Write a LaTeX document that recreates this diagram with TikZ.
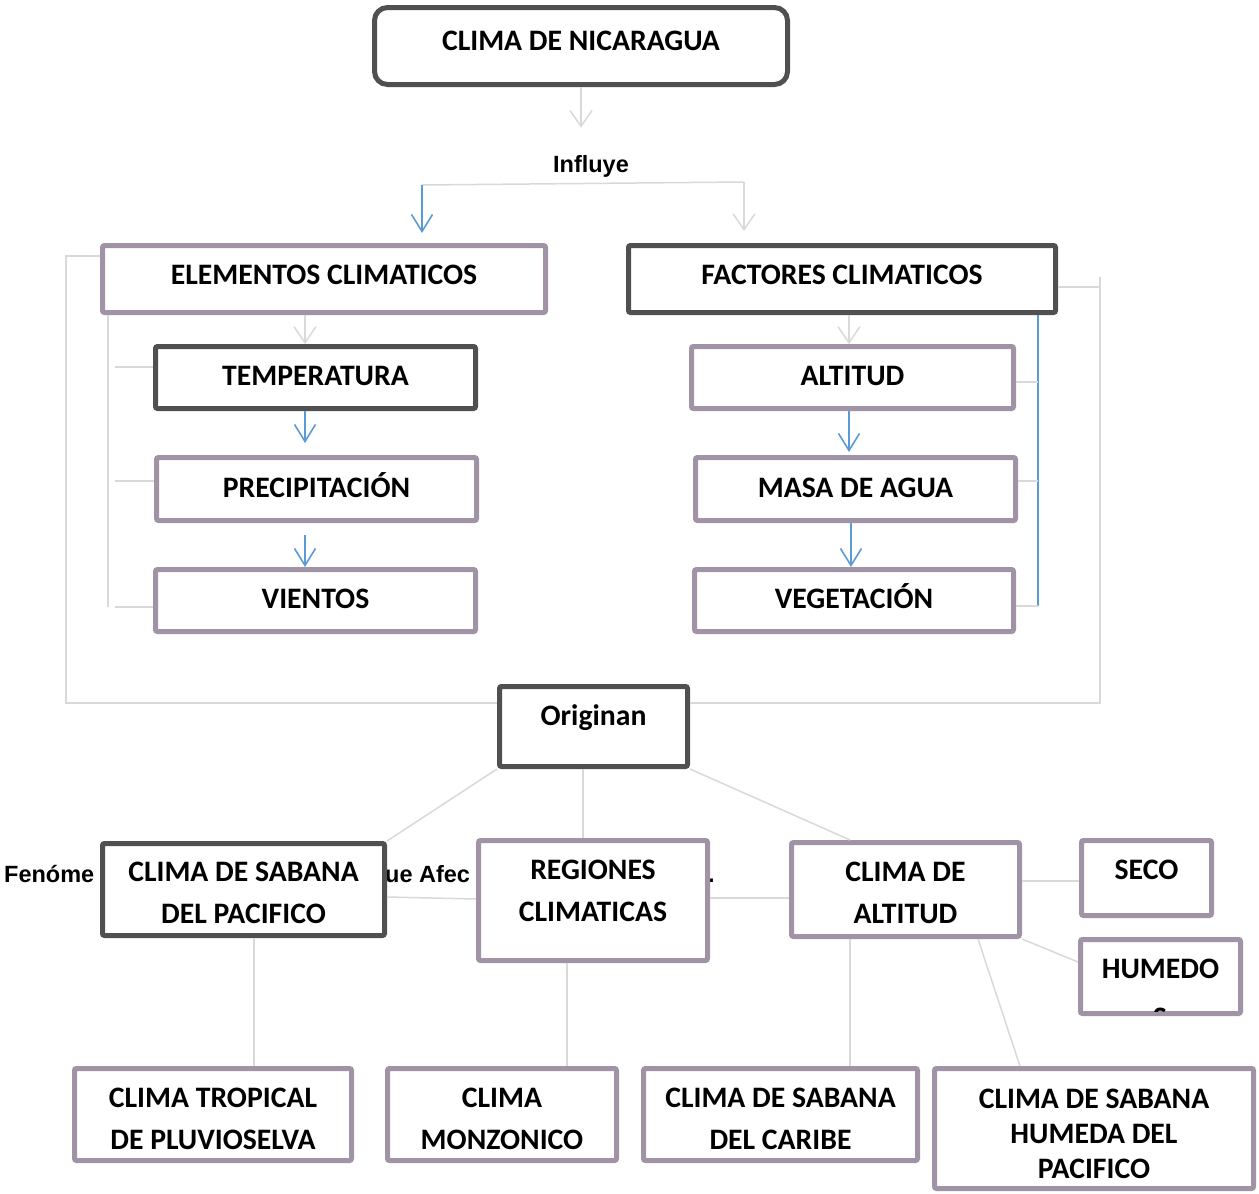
\documentclass[tikz,border=0pt]{standalone}
\usepackage{fontspec}
\setmainfont{Carlito}
\newfontfamily\arialfont{Liberation Sans}
\usetikzlibrary{arrows.meta,positioning}
\definecolor{boxdark}{RGB}{80,80,80}
\definecolor{boxlilac}{RGB}{160,147,166}
\definecolor{linkgray}{RGB}{217,217,217}
\definecolor{linkblue}{RGB}{91,155,213}
\newcommand{\boxtext}{\fontsize{29.7pt}{42pt}\selectfont\bfseries}
\newcommand{\tightboxtext}{\fontsize{29.7pt}{35pt}\selectfont\bfseries}
\newcommand{\plaintext}{\arialfont\fontsize{23.5pt}{28pt}\selectfont\bfseries}
\tikzset
{
    darkbox/.style = {rectangle, draw=boxdark, line width=5pt, fill=white, rounded corners=2pt, align=center, inner sep=0pt, font=\boxtext, text height=19pt, text depth=3pt},
    lilacbox/.style = {darkbox, draw=boxlilac},
    twolines/.style = {text height=#1, text depth=0pt},
    plainlabel/.style = {inner sep=0pt, font=\plaintext},
    link/.style = {draw=linkgray, line width=1.5pt},
    grayarrow/.style = {link, -{Straight Barb[length=16pt, width=22pt]}},
    bluelink/.style = {draw=linkblue, line width=1.6pt},
    bluearrow/.style = {bluelink, -{Straight Barb[length=17pt, width=21pt]}}
}

\begin{document}
\begin{tikzpicture}[x=1pt, y=-1pt]
\useasboundingbox (0,0) rectangle (1259,1194);
\node[plainlabel, anchor=base west] (frag1) at (4,882) {Fenóme};
\node[plainlabel, anchor=base west] (frag2) at (385,882) {ue Afec};
\node[plainlabel, anchor=base west] (frag3) at (708,882) {.};

\node[darkbox, rounded corners=13pt, minimum width=413pt, minimum height=77pt, text depth=11pt] (nic) at (581,46) {CLIMA DE NICARAGUA};
\node[plainlabel, anchor=base] (influye) at (591,172) {Influye};

\node[lilacbox, minimum width=443pt, minimum height=67pt, text depth=8pt] (elem) at (324,279) {ELEMENTOS CLIMATICOS};
\node[darkbox, minimum width=427pt, minimum height=67pt, text depth=8pt] (fact) at (842,279) {FACTORES CLIMATICOS};
\node[darkbox, minimum width=320pt, minimum height=62pt] (temp) at (315.5,377.5) {TEMPERATURA};
\node[lilacbox, minimum width=320pt, minimum height=63pt] (prec) at (316.5,489) {PRECIPITACIÓN};
\node[lilacbox, minimum width=320pt, minimum height=62pt, text depth=4pt] (vien) at (315.5,600.5) {VIENTOS};
\node[lilacbox, minimum width=322pt, minimum height=62pt] (alti) at (852.5,377.5) {ALTITUD};
\node[lilacbox, minimum width=320pt, minimum height=63pt] (masa) at (855.5,489) {MASA DE AGUA};
\node[lilacbox, minimum width=319pt, minimum height=62pt, text depth=4pt] (vege) at (854,600.5) {VEGETACIÓN};

\node[darkbox, minimum width=188pt, minimum height=80pt, text depth=22pt] (orig) at (593.5,726.5) {Originan};

\node[darkbox, twolines=68pt, minimum width=282pt, minimum height=92pt] (pac) at (243.5,889.5) {CLIMA DE SABANA\\DEL PACIFICO};
\node[lilacbox, twolines=42pt, minimum width=229pt, minimum height=120pt] (reg) at (593,900.5) {REGIONES\\CLIMATICAS};
\node[lilacbox, twolines=68pt, minimum width=228pt, minimum height=94pt] (calt) at (905.5,889.5) {CLIMA DE\\ALTITUD};
\node[lilacbox, minimum width=130pt, minimum height=75pt, text depth=16pt] (seco) at (1146.5,878) {SECO};
\node[lilacbox, minimum width=160pt, minimum height=74pt, text depth=15pt] (hum) at (1160.5,976.5) {HUMEDO};
\begin{scope}
\clip ([xshift=5pt,yshift=5pt]hum.south west) rectangle ([xshift=-5pt,yshift=-5pt]hum.north east);
\node[font=\boxtext, inner sep=0pt, anchor=base] (humcut) at (1160,1027) {S};
\end{scope}

\node[lilacbox, twolines=69pt, minimum width=277pt, minimum height=92pt] (trop) at (213,1114.5) {CLIMA TROPICAL\\DE PLUVIOSELVA};
\node[lilacbox, twolines=69pt, minimum width=229pt, minimum height=92pt] (monz) at (502,1114.5) {CLIMA\\MONZONICO};
\node[lilacbox, twolines=69pt, minimum width=274pt, minimum height=92pt] (cari) at (780.5,1114.5) {CLIMA DE SABANA\\DEL CARIBE};
\node[lilacbox, font=\tightboxtext, twolines=99pt, minimum width=319pt, minimum height=120pt] (shum) at (1094,1128.5) {CLIMA DE SABANA\\HUMEDA DEL\\PACIFICO};

\draw[grayarrow, shorten >=27pt] (nic.south) -- (nic.south |- influye.north);
\coordinate (forkl) at (422,185);
\coordinate (forkr) at (744,182);
\draw[link] (forkl) -- (forkr);
\draw[grayarrow, shorten >=12pt] (forkr) -- (forkr |- fact.north);
\draw[bluearrow, shorten >=10pt] (forkl) -- (forkl |- elem.north);

\draw[grayarrow] (305,0 |- elem.south) -- (305,0 |- temp.north);
\draw[grayarrow] (849,0 |- fact.south) -- (849,0 |- alti.north);
\draw[bluearrow, shorten >=12pt] (305,0 |- temp.south) -- (305,0 |- prec.north);
\draw[bluearrow, shorten <=12pt] (305,0 |- prec.south) -- (305,0 |- vien.north);
\draw[bluearrow, shorten >=3pt] (849,0 |- alti.south) -- (849,0 |- masa.north);
\draw[bluearrow] (851,0 |- masa.south) -- (851,0 |- vege.north);

\draw[link] (108,0 |- elem.south) -- (108,607);
\draw[link] (115,367) -- (temp.west |- 0,367);
\draw[link] (115,481) -- (prec.west |- 0,481);
\draw[link] (115,607) -- (vien.west |- 0,607);
\draw[link] (elem.west |- 0,256) -| (66,703) -- (orig.west |- 0,703);

\draw[bluelink] (1038,0 |- fact.south) -- (1038,606);
\draw[link] (alti.east |- 0,382) -- (1038,382);
\draw[link] (masa.east |- 0,481) -- (1038,481);
\draw[link] (vege.east |- 0,606) -- (1038,606);
\draw[link] (fact.east |- 0,287) -- (1100,287);
\draw[link] (1100,277) -- (1100,703) -- (orig.east |- 0,703);

\draw[link] (orig.south west) -- (pac.north east);
\draw[link] (583,0 |- orig.south) -- (583,0 |- reg.north);
\draw[link] (orig.south east) -- (850,0 |- calt.north);
\draw[link] (pac.east |- 0,897) -- (reg.west |- 0,899);
\draw[link] (reg.east |- 0,898) -- (calt.west |- 0,898);
\draw[link] (calt.east |- 0,881) -- (seco.west |- 0,881);
\draw[link] (calt.south east) -- (hum.west |- 0,962);
\draw[link] (254,0 |- pac.south) -- (254,0 |- trop.north);
\draw[link] (567,0 |- reg.south) -- (567,0 |- monz.north);
\draw[link] (850,0 |- calt.south) -- (850,0 |- cari.north);
\draw[link] (978,0 |- calt.south) -- (1020,0 |- shum.north);
\end{tikzpicture}
\end{document}
